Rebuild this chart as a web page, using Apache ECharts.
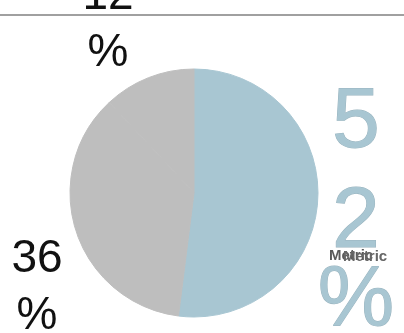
<!DOCTYPE html>
<html>
<head>
<meta charset="utf-8">
<script src="https://cdn.jsdelivr.net/npm/echarts@6/dist/echarts.min.js"></script>
<style>
  html, body { margin: 0; padding: 0; background: #fff; }
  #chart { width: 404px; height: 333px; }
</style>
</head>
<body>
<div id="chart"></div>
<script>
// slices, clockwise from 12 o'clock
var categories = ["A", "B", "C"];
var values = [52, 36, 12];
var legendNames = ["Metric", "Metric"];

var sliceColors = ["#a8c6d2", "#bebebe", "#bebebe"];
// where each label block sits
var labelSpots = [
  { x: 356, y: 73, verticalAlign: "top" },
  { x: 37, y: 288, verticalAlign: "middle" },
  { x: 108, y: 25, verticalAlign: "middle" }
];

var myChart = echarts.init(document.getElementById("chart"));

myChart.setOption({
  animation: false,
  graphic: [
    {
      type: "line",
      shape: { x1: 0, y1: 15, x2: 404, y2: 15 },
      style: { stroke: "#a0a0a0", lineWidth: 2 },
      z: 1
    },
    {
      type: "text",
      left: 329,
      top: 248,
      style: { text: legendNames[0], font: "bold 15px 'Liberation Sans'", fill: "#5a5a5a" },
      z: 10
    },
    {
      type: "text",
      left: 343,
      top: 249,
      style: { text: legendNames[1], font: "bold 15px 'Liberation Sans'", fill: "#666" },
      z: 10
    }
  ],
  series: [
    {
      type: "pie",
      center: [194, 193],
      radius: 124,
      startAngle: 90,
      clockwise: true,
      silent: true,
      avoidLabelOverlap: false,
      data: categories.map(function (c, i) {
        return {
          name: c,
          value: values[i],
          itemStyle: { color: sliceColors[i], borderColor: sliceColors[i], borderWidth: 1 }
        };
      }),
      labelLine: { show: false },
      label: {
        show: true,
        position: "outside",
        fontFamily: "Liberation Sans",
        formatter: function (p) {
          var txt = String(values[p.dataIndex]);
          if (p.dataIndex === 0) {
            return "{a|" + txt.charAt(0) + "}\n{a|" + txt.charAt(1) + "}\n{b|%}";
          }
          return "{c|" + txt + "}\n{c|%}";
        },
        rich: {
          a: { fontSize: 86, lineHeight: 100, color: "#a8c6d2", fontFamily: "Liberation Sans", textBorderColor: "#98b3be", textBorderWidth: 1, align: "center" },
          b: { fontSize: 86, lineHeight: 58, color: "#a8c6d2", fontFamily: "Liberation Sans", textBorderColor: "#98b3be", textBorderWidth: 1, align: "center" },
          c: { fontSize: 46, lineHeight: 57, color: "#111", fontFamily: "Liberation Sans", align: "center" }
        }
      },
      labelLayout: function (params) {
        var s = labelSpots[params.dataIndex];
        return { x: s.x, y: s.y, align: "center", verticalAlign: s.verticalAlign, hideOverlap: false };
      }
    }
  ]
});
</script>
</body>
</html>
